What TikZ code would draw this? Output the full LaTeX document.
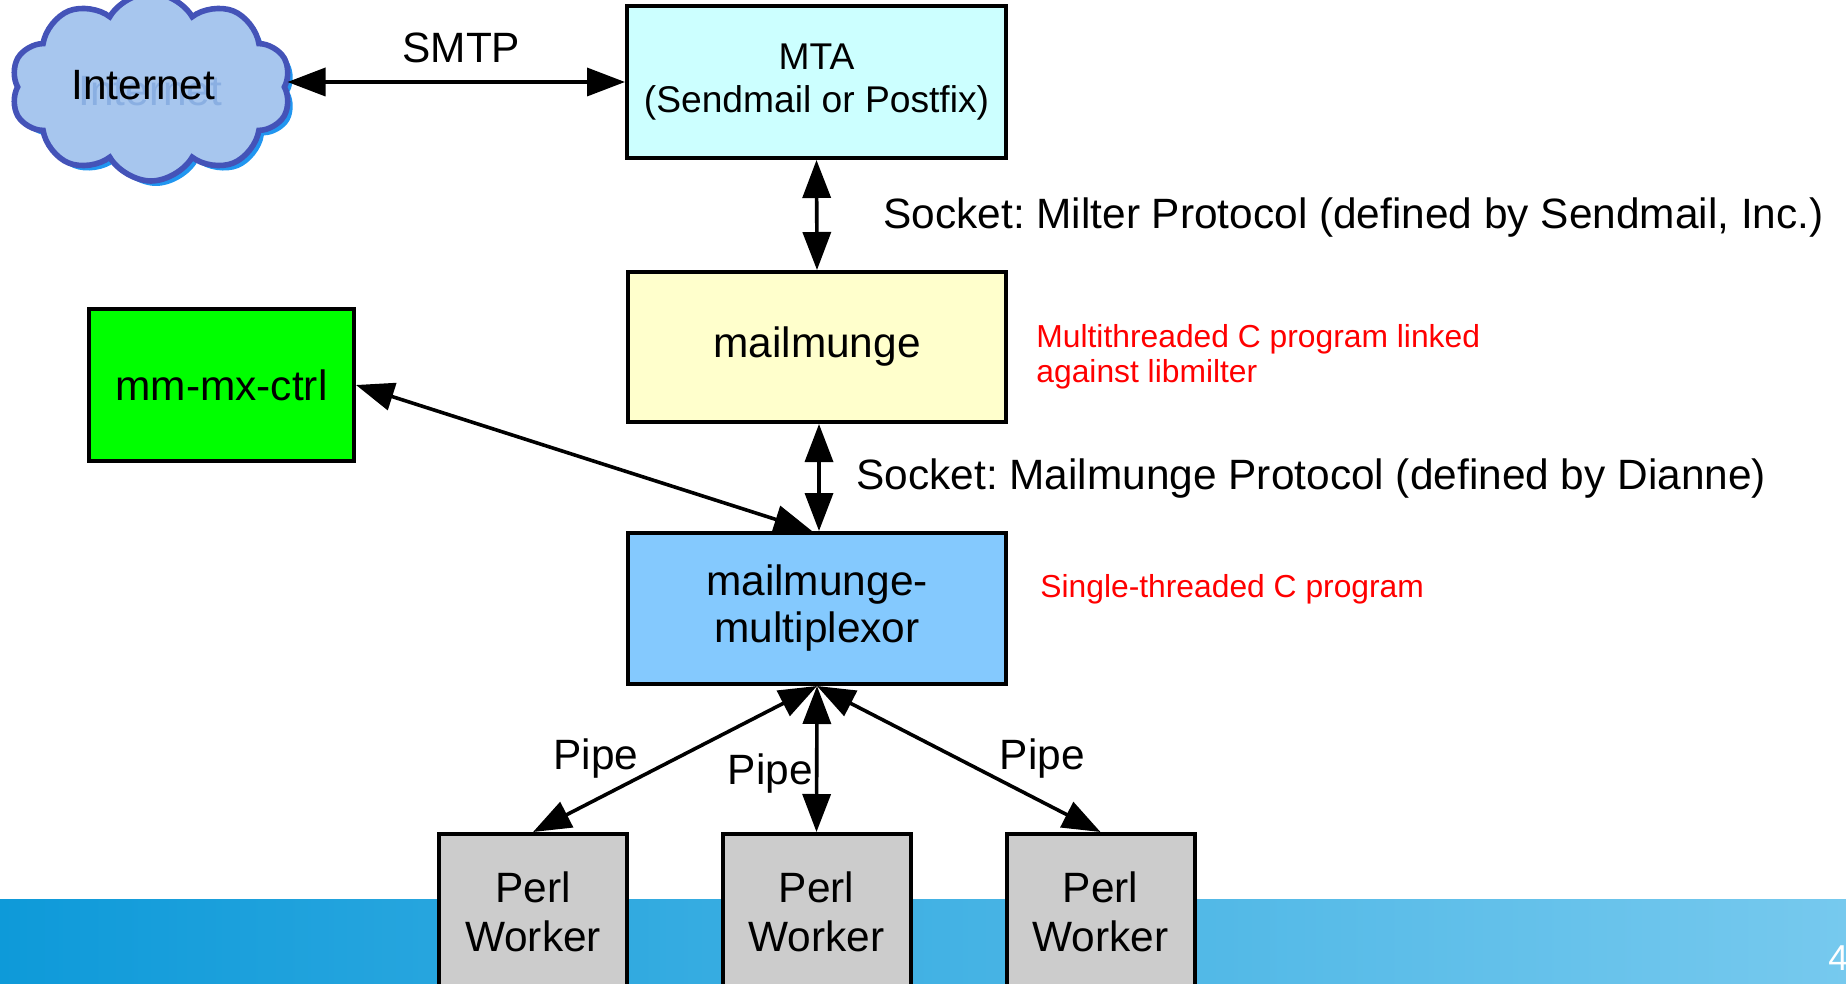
\documentclass[tikz,border=0pt]{standalone}
\usepackage{fontspec}
\setmainfont{Liberation Sans}
\usetikzlibrary{arrows.meta,shapes.symbols}
\definecolor{mtafill}{HTML}{CCFFFF}
\definecolor{mmfill}{HTML}{FFFFCC}
\definecolor{muxfill}{HTML}{84C9FE}
\definecolor{ctrlfill}{HTML}{00FF00}
\definecolor{perlfill}{HTML}{CCCCCC}
\definecolor{cloudfill}{HTML}{A7C6EE}
\definecolor{cloudline}{HTML}{4453B8}
\definecolor{cloudshadow}{HTML}{2196F0}
\definecolor{cloudtext}{HTML}{8AAFE2}
\definecolor{bandleft}{HTML}{0E9AD9}
\definecolor{bandright}{HTML}{76C9EE}
\newcommand\mainfs{\fontsize{21.2}{23}\selectfont}
\newcommand\notefs{\fontsize{15.9}{17.5}\selectfont}
\frenchspacing
\begin{document}
\begin{tikzpicture}[x=0.5pt,y=-0.5pt,
  box/.style={draw=black, line width=2pt, inner sep=0pt, align=center},
  conn/.style={line width=1.8pt, {Triangle[length=19pt,width=14pt]}-{Triangle[length=19pt,width=14pt]}},
  lbl/.style={font=\mainfs, inner sep=0pt, anchor=base west},
  note/.style={font=\notefs, text=red, inner sep=0pt, anchor=base west},
  cloudshape/.style={cloud, cloud puffs=10, cloud puff arc=120, aspect=1.55, minimum width=140pt, minimum height=94pt, inner sep=0pt},
]
\useasboundingbox (0,0) rectangle (1846,984);
\clip (0,0) rectangle (1846,984);
% bottom band
\fill[left color=bandleft, right color=bandright] (0,899) rectangle (1846,984);
\node[font=\fontsize{18}{20}\selectfont, text=white, inner sep=0pt, anchor=base west] (pagenum) at (1828,970) {4};

% cloud
\node[cloudshape, fill=cloudshadow] (inetshadow) at (156,92) {};
\node[cloudshape, fill=cloudfill, draw=cloudline, line width=2.8pt] (inet) at (151,87) {};
\node[lbl, text=cloudtext] (inetghost) at (78,106) {Internet};
\node[lbl] (inettext) at (71,100) {Internet};

% boxes
\node[box, fill=mtafill, minimum width=189.5pt, minimum height=76pt, font=\fontsize{18.6}{21.5}\selectfont] (mta) at (816.5,82) {MTA\\(Sendmail or Postfix)};
\node[box, fill=mmfill, minimum width=189pt, minimum height=75pt, font=\mainfs] (mm) at (817,347) {mailmunge};
\node[box, fill=muxfill, minimum width=189pt, minimum height=75.5pt, font=\fontsize{21.2}{23.5}\selectfont] (mux) at (817,608.5) {mailmunge-\\multiplexor};
\node[box, fill=ctrlfill, minimum width=132.5pt, minimum height=76pt, font=\mainfs] (ctrl) at (221.5,385) {mm-mx-ctrl};
\node[box, fill=perlfill, minimum width=94pt, minimum height=77.5pt, font=\fontsize{21.2}{24.5}\selectfont] (perl1) at (533,911.5) {Perl\\Worker};
\node[box, fill=perlfill, minimum width=94pt, minimum height=77.5pt, font=\fontsize{21.2}{24.5}\selectfont] (perl2) at (816.5,911.5) {Perl\\Worker};
\node[box, fill=perlfill, minimum width=94pt, minimum height=77.5pt, font=\fontsize{21.2}{24.5}\selectfont] (perl3) at (1100.5,911.5) {Perl\\Worker};

% connectors
\draw[conn] (inet.east |- mta.west) -- (mta.west);
\draw[conn] (mta.south) -- (mm.north);
\draw[conn] ([xshift=1pt]mm.south) -- ([xshift=1pt]mux.north);
\draw[conn] (ctrl.east) -- ([xshift=-2.5pt]mux.north);
\draw[conn] (mux.south) -- (perl1.north);
\draw[conn] (mux.south) -- (perl2.north);
\draw[conn] (mux.south) -- (perl3.north);

% labels
\node[lbl] (smtp) at (402,63) {SMTP};
\node[lbl] (milter) at (883,229) {Socket: Milter Protocol (defined by Sendmail, Inc.)};
\node[lbl] (mmproto) at (856,489) {Socket: Mailmunge Protocol (defined by Dianne)};
\node[lbl] (pipe1) at (553,769) {Pipe};
\node[lbl] (pipe2) at (727.5,784) {Pipe};
\node[lbl] (pipe3) at (999.5,769) {Pipe};
\node[note] (note1a) at (1036,347) {Multithreaded C program linked};
\node[note] (note1b) at (1036,382) {against libmilter};
\node[note] (note2) at (1040,597) {Single-threaded C program};
\end{tikzpicture}
\end{document}
